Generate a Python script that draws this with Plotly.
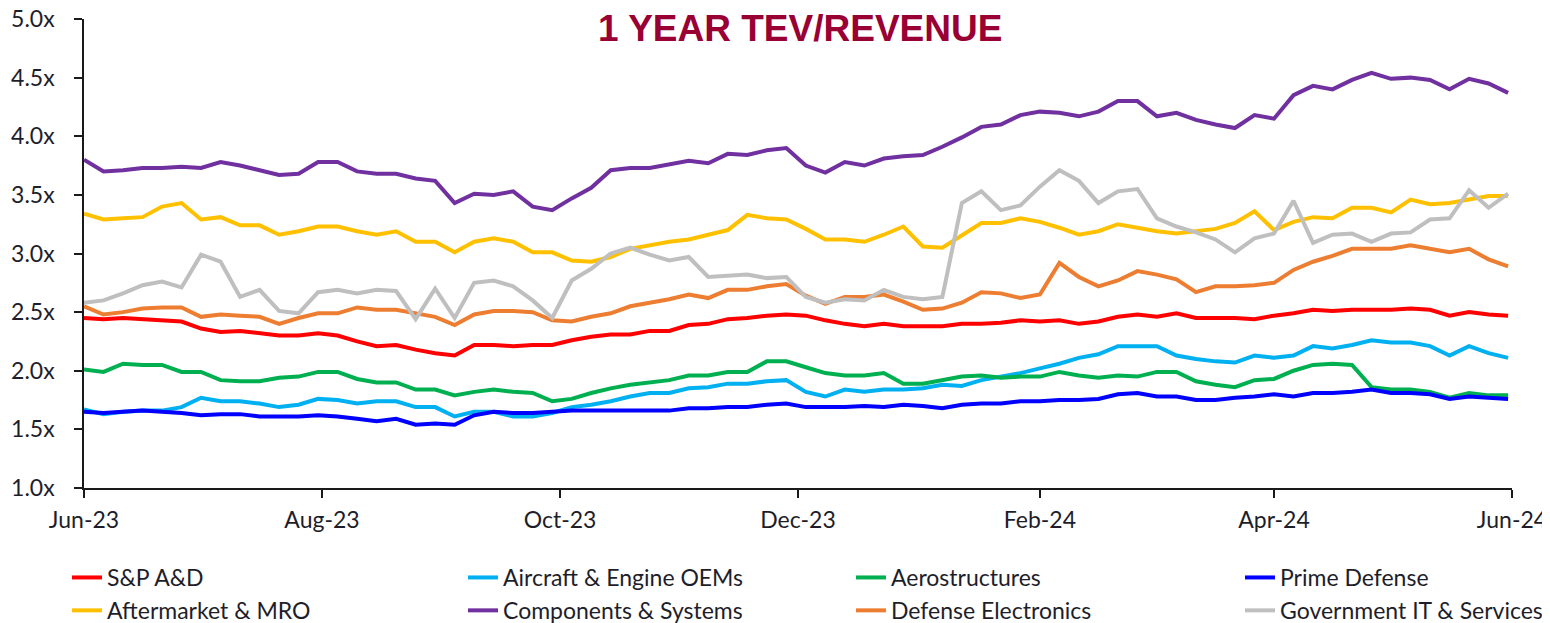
import pandas as pd
import plotly.graph_objects as go

# Dates: sampled every 5 days from Jun 1, 2023
start_date = "2023-06-01"
n_points = 74
dates = pd.date_range(start=start_date, periods=n_points, freq="5D")

series_names = [
    "S&P A&D", "Aircraft & Engine OEMs", "Aerostructures", "Prime Defense",
    "Aftermarket & MRO", "Components & Systems", "Defense Electronics",
    "Government IT & Services",
]
series_colors = [
    "#FF0000", "#00B0F0", "#00B050", "#0000FF",
    "#FFC000", "#7030A0", "#ED7D31", "#BFBFBF",
]
# legend column each series sits in (4 columns x 2 rows)
series_legend = ["legend", "legend2", "legend3", "legend4",
                 "legend", "legend2", "legend3", "legend4"]

sp_ad = [2.45, 2.44, 2.45, 2.44, 2.43, 2.42, 2.36, 2.33, 2.34, 2.32, 2.30, 2.30, 2.32,
         2.30, 2.25, 2.21, 2.22, 2.18, 2.15, 2.13, 2.22, 2.22, 2.21, 2.22, 2.22,
         2.26, 2.29, 2.31, 2.31, 2.34, 2.34, 2.39, 2.40, 2.44, 2.45, 2.47, 2.48, 2.47,
         2.43, 2.40, 2.38, 2.40, 2.38, 2.38, 2.38, 2.40, 2.40, 2.41, 2.43, 2.42,
         2.43, 2.40, 2.42, 2.46, 2.48, 2.46, 2.49, 2.45, 2.45, 2.45, 2.44, 2.47,
         2.49, 2.52, 2.51, 2.52, 2.52, 2.52, 2.53, 2.52, 2.47, 2.50, 2.48, 2.47]

aircraft_oems = [1.67, 1.63, 1.65, 1.66, 1.66, 1.69, 1.77, 1.74, 1.74, 1.72, 1.69, 1.71, 1.76,
                 1.75, 1.72, 1.74, 1.74, 1.69, 1.69, 1.61, 1.65, 1.65, 1.61, 1.61, 1.64,
                 1.69, 1.71, 1.74, 1.78, 1.81, 1.81, 1.85, 1.86, 1.89, 1.89, 1.91, 1.92, 1.82,
                 1.78, 1.84, 1.82, 1.84, 1.84, 1.85, 1.88, 1.87, 1.92, 1.95, 1.98, 2.02,
                 2.06, 2.11, 2.14, 2.21, 2.21, 2.21, 2.13, 2.10, 2.08, 2.07, 2.13, 2.11,
                 2.13, 2.21, 2.19, 2.22, 2.26, 2.24, 2.24, 2.21, 2.13, 2.21, 2.15, 2.11]

aerostructures = [2.01, 1.99, 2.06, 2.05, 2.05, 1.99, 1.99, 1.92, 1.91, 1.91, 1.94, 1.95, 1.99,
                  1.99, 1.93, 1.90, 1.90, 1.84, 1.84, 1.79, 1.82, 1.84, 1.82, 1.81, 1.74,
                  1.76, 1.81, 1.85, 1.88, 1.90, 1.92, 1.96, 1.96, 1.99, 1.99, 2.08, 2.08, 2.03,
                  1.98, 1.96, 1.96, 1.98, 1.89, 1.89, 1.92, 1.95, 1.96, 1.94, 1.95, 1.95,
                  1.99, 1.96, 1.94, 1.96, 1.95, 1.99, 1.99, 1.91, 1.88, 1.86, 1.92, 1.93,
                  2.00, 2.05, 2.06, 2.05, 1.86, 1.84, 1.84, 1.82, 1.77, 1.81, 1.79, 1.79]

prime_defense = [1.65, 1.64, 1.65, 1.66, 1.65, 1.64, 1.62, 1.63, 1.63, 1.61, 1.61, 1.61, 1.62,
                 1.61, 1.59, 1.57, 1.59, 1.54, 1.55, 1.54, 1.62, 1.65, 1.64, 1.64, 1.65,
                 1.66, 1.66, 1.66, 1.66, 1.66, 1.66, 1.68, 1.68, 1.69, 1.69, 1.71, 1.72, 1.69,
                 1.69, 1.69, 1.70, 1.69, 1.71, 1.70, 1.68, 1.71, 1.72, 1.72, 1.74, 1.74,
                 1.75, 1.75, 1.76, 1.80, 1.81, 1.78, 1.78, 1.75, 1.75, 1.77, 1.78, 1.80,
                 1.78, 1.81, 1.81, 1.82, 1.84, 1.81, 1.81, 1.80, 1.76, 1.78, 1.77, 1.76]

aftermarket_mro = [3.34, 3.29, 3.30, 3.31, 3.40, 3.43, 3.29, 3.31, 3.24, 3.24, 3.16, 3.19, 3.23,
                   3.23, 3.19, 3.16, 3.19, 3.10, 3.10, 3.01, 3.10, 3.13, 3.10, 3.01, 3.01,
                   2.94, 2.93, 2.97, 3.04, 3.07, 3.10, 3.12, 3.16, 3.20, 3.33, 3.30, 3.29, 3.21,
                   3.12, 3.12, 3.10, 3.16, 3.23, 3.06, 3.05, 3.15, 3.26, 3.26, 3.30, 3.27,
                   3.22, 3.16, 3.19, 3.25, 3.22, 3.19, 3.17, 3.19, 3.21, 3.26, 3.36, 3.20,
                   3.27, 3.31, 3.30, 3.39, 3.39, 3.35, 3.46, 3.42, 3.43, 3.46, 3.49, 3.49]

components_systems = [3.80, 3.70, 3.71, 3.73, 3.73, 3.74, 3.73, 3.78, 3.75, 3.71, 3.67, 3.68, 3.78,
                      3.78, 3.70, 3.68, 3.68, 3.64, 3.62, 3.43, 3.51, 3.50, 3.53, 3.40, 3.37,
                      3.47, 3.56, 3.71, 3.73, 3.73, 3.76, 3.79, 3.77, 3.85, 3.84, 3.88, 3.90, 3.75,
                      3.69, 3.78, 3.75, 3.81, 3.83, 3.84, 3.91, 3.99, 4.08, 4.10, 4.18, 4.21,
                      4.20, 4.17, 4.21, 4.30, 4.30, 4.17, 4.20, 4.14, 4.10, 4.07, 4.18, 4.15,
                      4.35, 4.43, 4.40, 4.48, 4.54, 4.49, 4.50, 4.48, 4.40, 4.49, 4.45, 4.37]

defense_electronics = [2.55, 2.48, 2.50, 2.53, 2.54, 2.54, 2.46, 2.48, 2.47, 2.46, 2.40, 2.45, 2.49,
                       2.49, 2.54, 2.52, 2.52, 2.49, 2.46, 2.39, 2.48, 2.51, 2.51, 2.50, 2.43,
                       2.42, 2.46, 2.49, 2.55, 2.58, 2.61, 2.65, 2.62, 2.69, 2.69, 2.72, 2.74, 2.64,
                       2.57, 2.63, 2.63, 2.65, 2.59, 2.52, 2.53, 2.58, 2.67, 2.66, 2.62, 2.65,
                       2.92, 2.80, 2.72, 2.77, 2.85, 2.82, 2.78, 2.67, 2.72, 2.72, 2.73, 2.75,
                       2.86, 2.93, 2.98, 3.04, 3.04, 3.04, 3.07, 3.04, 3.01, 3.04, 2.95, 2.89]

gov_it_services = [2.58, 2.60, 2.66, 2.73, 2.76, 2.71, 2.99, 2.93, 2.63, 2.69, 2.51, 2.49, 2.67,
                   2.69, 2.66, 2.69, 2.68, 2.44, 2.70, 2.45, 2.75, 2.77, 2.72, 2.60, 2.45,
                   2.77, 2.87, 3.00, 3.05, 2.99, 2.94, 2.97, 2.80, 2.81, 2.82, 2.79, 2.80, 2.63,
                   2.58, 2.61, 2.60, 2.69, 2.63, 2.61, 2.63, 3.43, 3.53, 3.37, 3.41, 3.57,
                   3.71, 3.62, 3.43, 3.53, 3.55, 3.30, 3.23, 3.18, 3.12, 3.01, 3.13, 3.17,
                   3.45, 3.09, 3.16, 3.17, 3.10, 3.17, 3.18, 3.29, 3.30, 3.54, 3.39, 3.51]

series_values = [sp_ad, aircraft_oems, aerostructures, prime_defense,
                 aftermarket_mro, components_systems, defense_electronics, gov_it_services]

y_ticks = [1.0, 1.5, 2.0, 2.5, 3.0, 3.5, 4.0, 4.5, 5.0]
y_tick_labels = ["1.0x", "1.5x", "2.0x", "2.5x", "3.0x", "3.5x", "4.0x", "4.5x", "5.0x"]
x_ticks = ["2023-06-01", "2023-08-01", "2023-10-01", "2023-12-01",
           "2024-02-01", "2024-04-01", "2024-06-01"]
x_tick_labels = ["Jun-23", "Aug-23", "Oct-23", "Dec-23", "Feb-24", "Apr-24", "Jun-24"]
title_text = "1 YEAR TEV/REVENUE"

fig = go.Figure()
for name, color, vals, lg in zip(series_names, series_colors, series_values, series_legend):
    fig.add_trace(go.Scatter(
        x=dates, y=vals, name=name, mode="lines",
        line=dict(color=color, width=4), legend=lg,
    ))

FONT = "Lato, Carlito, Calibri, sans-serif"
TXT = "#1e1e2a"
tick_font = dict(family=FONT, size=23, color=TXT)

# The page body has an 8px margin; figure is sized so page == 1550x623.
OFF = 8
FIG_W, FIG_H = 1550 - OFF, 623 - OFF
# plot area in page pixels: x 84..1512, y 19..488
L = 84 - OFF
T = 19 - OFF
R = FIG_W - (1512 - OFF)
B = FIG_H - (488 - OFF)
PW, PH = FIG_W - L - R, FIG_H - T - B


def px_x(p):  # page pixel -> paper x
    return (p - OFF - L) / PW


def px_y(p):  # page pixel -> paper y
    return (FIG_H - B - (p - OFF)) / PH


legend_common = dict(
    orientation="v", xanchor="left", yanchor="top", y=px_y(556),
    font=dict(family=FONT, size=23, color=TXT),
    traceorder="normal", bgcolor="rgba(0,0,0,0)", borderwidth=0,
)
legend_text_starts = [107, 503, 891, 1280]

fig.update_layout(
    width=FIG_W, height=FIG_H,
    margin=dict(l=L, r=R, t=T, b=B, autoexpand=False),
    paper_bgcolor="white", plot_bgcolor="white",
    showlegend=True,
    legend=dict(legend_common, x=px_x(legend_text_starts[0] - 40)),
    legend2=dict(legend_common, x=px_x(legend_text_starts[1] - 40)),
    legend3=dict(legend_common, x=px_x(legend_text_starts[2] - 40)),
    legend4=dict(legend_common, x=px_x(legend_text_starts[3] - 40)),
    xaxis=dict(
        type="date", range=["2023-06-01", "2024-06-01"],
        tickvals=x_ticks, ticktext=x_tick_labels,
        showgrid=False, zeroline=False,
        showline=True, linecolor="#1a1a1a", linewidth=1.5,
        ticks="outside", ticklen=8, tickwidth=1.5, tickcolor="#1a1a1a",
        tickfont=tick_font, ticklabelstandoff=3, ticklabeloverflow="allow",
    ),
    yaxis=dict(
        range=[1.0, 5.0], tickvals=y_ticks, ticktext=y_tick_labels,
        showgrid=False, zeroline=False,
        showline=True, linecolor="#1a1a1a", linewidth=1.5,
        ticks="outside", ticklen=8, tickwidth=1.5, tickcolor="#1a1a1a",
        tickfont=tick_font, ticklabelstandoff=15, ticklabeloverflow="allow",
    ),
    annotations=[dict(
        text=f"<b>{title_text}</b>", xref="paper", yref="paper",
        x=px_x(800), y=px_y(28.5), xanchor="center", yanchor="middle",
        showarrow=False,
        font=dict(family="Liberation Sans, Arial, sans-serif", size=37, color="#990033"),
    )],
)

fig.write_html("out.html", config={"displayModeBar": False})
